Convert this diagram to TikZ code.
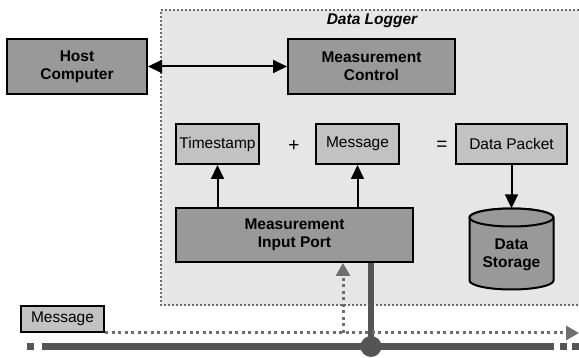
\documentclass[tikz,border=0pt]{standalone}
\usepackage{fontspec}
\setmainfont{Liberation Sans}
\usetikzlibrary{arrows.meta}
\definecolor{darkfill}{HTML}{999999}
\definecolor{lightfill}{HTML}{C2C2C2}
\definecolor{bgfill}{HTML}{E6E6E6}
\definecolor{busgray}{HTML}{555555}
\definecolor{dotgray}{HTML}{6E6E6E}
\definecolor{bordergray}{HTML}{6A6A6A}
\begin{document}
\begin{tikzpicture}[x=1pt,y=-1pt,
  basefont/.style={font=\fontsize{15.5}{18}\selectfont},
  darkbox/.style={basefont, draw=black, line width=2pt, fill=darkfill, align=center, inner sep=0pt, font=\fontsize{15.5}{18}\selectfont\bfseries},
  lightbox/.style={basefont, draw=black, line width=2pt, fill=lightfill, align=center, inner sep=0pt},
  tip/.style={Triangle[length=14pt,width=13pt]},
  link/.style={draw=black, line width=2pt, -{Triangle[length=14pt,width=13pt]}},
  dotlink/.style={draw=dotgray, line width=3pt, dash pattern=on 3pt off 3.5pt, -{Triangle[length=13pt,width=14pt]}},
  bus/.style={draw=busgray, line width=6.5pt},
  sym/.style={font=\fontsize{19}{20}\selectfont, inner sep=0pt}
]
\useasboundingbox (0,0) rectangle (579,358);

% Data Logger area
\fill[bgfill] (161,10) rectangle (579,305);
\draw[bordergray, line width=2pt, dash pattern=on 2pt off 2pt] (579,10) -- (161,10) -- (161,305) -- (579,305);
\node[font=\fontsize{15.5}{18}\selectfont\bfseries\itshape, inner sep=0pt] (title) at (372,21) {Data Logger};

% Boxes
\node[darkbox, minimum width=140pt, minimum height=55pt] (host) at (77,66.5) {Host\\Computer};
\node[darkbox, minimum width=167pt, minimum height=55pt] (mc) at (371.5,66.5) {Measurement\\Control};
\node[lightbox, minimum width=83pt, minimum height=40pt] (ts) at (217.5,144) {Timestamp};
\node[lightbox, minimum width=83pt, minimum height=40pt] (msg) at (357.5,144) {Message};
\node[lightbox, minimum width=111pt, minimum height=40pt] (dp) at (511.5,144) {Data Packet};
\node[sym] (plus) at (294,146) {+};
\node[sym] (eq) at (442,146) {=};
\node[darkbox, minimum width=237pt, minimum height=54pt] (port) at (294.5,235) {Measurement\\Input Port};
\node[lightbox, minimum width=83pt, minimum height=26pt] (bmsg) at (62.5,319) {Message};

% Cylinder (Data Storage)
\path[fill=darkfill, draw=black, line width=2pt] (469.5,217.5) -- (469.5,280.5)
  arc[start angle=180, end angle=360, x radius=42pt, y radius=9pt] -- (553.5,217.5)
  arc[start angle=0, end angle=180, x radius=42pt, y radius=9pt] -- cycle;
\draw[fill=darkfill, line width=2pt] (511.5,217.5) ellipse [x radius=42pt, y radius=9pt];
\node[minimum width=84pt, minimum height=81pt, inner sep=0pt] (storage) at (511.5,249) {};
\node[darkbox, draw=none, fill=none] (storagetext) at (511.5,255) {Data\\Storage};

% Connectors
\draw[link, {Triangle[length=14pt,width=13pt]}-{Triangle[length=14pt,width=13pt]}] (host.east) -- (mc.west);
\draw[link] (port.north -| ts.south) -- (ts.south);
\draw[link] (port.north -| msg.south) -- (msg.south);
\draw[link] (dp.south) -- (storage.north);

% Bus
\coordinate (junction) at (371,346.5);
\coordinate (busleft) at (42,346.5);
\coordinate (busright) at (554,346.5);
\draw[bus] (27,346.5) -- (34,346.5);
\draw[bus] (busleft) -- (busright);
\draw[bus] (560,346.5) -- (567,346.5);
\draw[bus] (572,346.5) -- (579,346.5);
\draw[bus] (port.south -| junction) -- (junction);
\fill[busgray] (junction) circle[radius=10.5pt];

% Message flow
\coordinate (msgend) at (579,333);
\coordinate (tap) at (343,333);
\draw[dotlink] (bmsg.south east) -- (msgend);
\draw[dotlink] (tap) -- (port.south -| tap);
\end{tikzpicture}
\end{document}
